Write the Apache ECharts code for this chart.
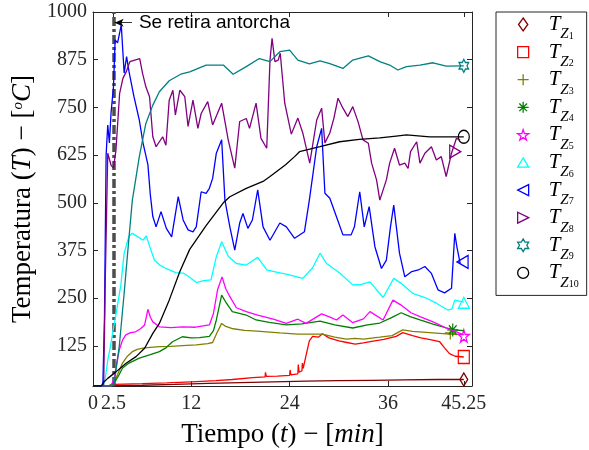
<!DOCTYPE html>
<html><head><meta charset="utf-8">
<script src="https://cdn.jsdelivr.net/npm/echarts@6/dist/echarts.min.js"></script>
<style>html,body{margin:0;padding:0;background:#fff}#c{width:589px;height:450px}</style>
</head><body><div id="c"></div>
<script>
// ---- data ----
const xTicks = [0, 2.5, 12, 24, 36, 45.25];
const yTicks = [125, 250, 375, 500, 625, 750, 875, 1000];
const seriesNames = ['TZ1','TZ2','TZ3','TZ4','TZ5','TZ6','TZ7','TZ8','TZ9','TZ10'];
const torchTime = 2.5;
const torchLabel = 'Se retira antorcha';
const arrowFrom = [2.64, 972];
const arrowTo = [4.75, 972];

const tz1 = [[0,20],[1.5,20],[2.5,21],[6,22],[10,24],[14,27],[18,29],[22,31],[26,33],[30,34],[34,35],[38,36],[42,37],[45.25,37]];
const tz2 = [[0,20],[2.2,20],[2.6,24],[6,26],[9,28],[12,31],[15,34],[17,37],[19.5,42],[21,44],[21.05,56],[21.15,45],[22.5,46],[24,48],[24.05,62],[24.15,49],[25,52],[25.05,76],[25.15,56],[25.5,60],[25.55,80],[25.65,66],[26,100],[26.4,138],[26.8,150],[27.5,148],[28,157],[28.8,146],[30,138],[31,134],[32,130],[33,133],[34,137],[35.5,142],[37,150],[37.8,160],[39,152],[40,146],[41,142],[42.3,136],[42.9,120],[43.5,105],[44.2,98],[45.25,96]];
const tz3 = [[0,20],[1.8,20],[2.3,24],[2.8,40],[3.2,60],[3.6,80],[4.2,98],[4.8,110],[5.4,116],[6.1,119],[7,121],[8.1,123],[9.5,124],[10.9,126],[12.6,128],[14,131],[14.6,134],[15.1,158],[15.7,184],[16.2,176],[17.1,170],[18.5,166],[20,164],[22.8,159],[25,156],[28,156],[29.5,148],[30.9,143],[32,145],[33,143],[35,148],[36.5,152],[37.8,167],[39,163],[41.1,160],[43.5,156],[44.5,155]];
const tz4 = [[0,20],[1.9,20],[2.4,25],[2.8,35],[3.2,50],[3.6,67],[4.4,80],[5.65,93],[7,102],[8.1,110],[8.9,120],[9.7,136],[10.9,149],[12,146],[13,147],[14.2,150],[14.7,165],[15.05,193],[15.7,258],[16.2,240],[17,215],[18.7,206],[19.9,193],[21.5,187],[23.6,180],[25.5,183],[27.7,190],[29.5,180],[31.7,172],[33.5,180],[35,185],[36.5,200],[37.6,212],[38.7,202],[39.9,193],[41.5,182],[43.1,172],[44,167],[45.25,165]];
const tz5 = [[0,20],[2.2,20],[2.6,40],[2.9,80],[3.2,114],[3.6,140],[4,154],[4.6,160],[5.2,162],[5.8,170],[6.3,180],[6.7,221],[7.0,200],[7.3,188],[8.1,175],[9.5,173],[10.9,175],[12.5,174],[14.2,180],[14.7,210],[15.2,272],[15.75,306],[16.2,275],[16.7,254],[17.5,225],[18.7,215],[20.1,206],[22,195],[23.6,184],[25,195],[26,184],[27.9,209],[29,200],[29.7,193],[30.5,206],[31.7,186],[33,196],[33.8,215],[35.4,193],[36.6,245],[37.6,232],[38.8,212],[39.9,202],[41.5,188],[43.1,172],[44.2,163],[45.25,154]];
const tz6 = [[0,20],[1.2,20],[1.5,40],[1.8,88],[2.1,120],[2.4,159],[2.9,220],[3.4,285],[3.8,368],[4.4,413],[4.8,420],[5.4,412],[6.1,402],[6.5,413],[7.0,380],[7.5,350],[8.2,336],[8.9,328],[10.1,317],[11,316],[11.8,305],[12.6,291],[13.5,296],[14.4,298],[15.05,359],[15.7,398],[16.5,360],[17.5,341],[18.7,337],[20.1,357],[21.2,324],[22.5,318],[23.6,313],[25.6,302],[26.8,330],[27.7,368],[28.5,341],[30.1,316],[31.7,285],[32.75,286],[33.8,293],[35.4,252],[36.7,302],[37.6,289],[39,263],[40.7,250],[41.9,237],[43.3,219],[43.8,222],[44.15,245],[45.25,240]];
const tz7 = [[0,20],[1.2,20],[1.4,200],[1.6,625],[1.8,704],[2.0,657],[2.2,735],[2.5,804],[2.7,927],[3.0,919],[3.45,966],[3.8,840],[4.1,883],[4.4,843],[5.0,778],[5.65,717],[6.1,657],[6.7,600],[7.0,520],[7.3,464],[7.7,437],[8.3,477],[8.95,433],[9.6,411],[10.4,516],[11.0,455],[11.6,429],[12.2,424],[12.6,437],[13.2,529],[13.8,525],[14.2,538],[14.6,564],[15.05,630],[15.7,665],[16.1,507],[16.7,437],[17.3,376],[17.9,447],[18.3,472],[18.9,433],[19.45,455],[20.1,534],[20.75,437],[21.6,402],[22.8,447],[23.6,437],[24.6,407],[25.8,424],[26.4,507],[27.3,647],[27.9,695],[28.3,525],[28.9,512],[29.7,464],[30.5,416],[31.5,416],[31.9,437],[32.55,529],[33.1,437],[33.7,490],[34.4,385],[35.2,328],[35.8,350],[36.3,437],[36.7,494],[37.4,368],[38.05,306],[38.9,320],[39.7,324],[40.5,333],[41.3,315],[42.1,272],[42.9,264],[43.75,276],[44.15,420],[44.4,385],[44.8,342]];
const tz8 = [[0,20],[1.3,20],[1.5,300],[1.8,630],[2.2,599],[2.5,591],[2.8,638],[3.25,787],[3.65,826],[4.05,843],[4.5,870],[5.7,878],[6.05,839],[6.45,804],[6.9,778],[7.3,673],[7.7,647],[8.1,660],[8.5,673],[8.9,651],[9.3,769],[9.75,795],[10.05,730],[10.6,795],[11.2,778],[11.6,700],[12.2,769],[12.8,695],[13.2,734],[14.0,765],[14.6,704],[15.7,761],[16.5,665],[17.3,591],[17.9,713],[18.7,721],[19.1,695],[19.9,761],[20.5,669],[21.2,643],[21.6,874],[21.85,931],[22.2,870],[22.6,874],[22.85,892],[23.4,761],[24.2,680],[25.0,722],[25.6,683],[26.45,604],[27.3,717],[27.9,748],[28.3,657],[28.9,683],[29.4,722],[29.9,774],[30.5,748],[31.1,726],[31.7,752],[32.35,712],[32.95,665],[33.6,656],[34.0,604],[34.6,560],[35.0,507],[35.8,560],[36.2,604],[36.8,643],[37.4,599],[38.05,604],[38.45,590],[38.75,634],[39.5,660],[39.9,604],[40.5,630],[41.3,647],[41.9,612],[42.5,621],[43.1,569],[43.75,630],[44.35,669],[44.8,665]];
const tz9 = [[0,20],[2.4,20],[2.6,30],[3.2,123],[3.8,263],[4.4,411],[4.8,507],[5.05,540],[5.65,621],[6.45,708],[7.3,756],[8.1,791],[9.3,820],[10.7,837],[11.8,843],[13.8,861],[15.9,861],[17.1,837],[18.7,857],[20.3,878],[21.6,870],[22.8,896],[24,900],[25,874],[26.4,864],[27.7,872],[28.9,865],[30.5,852],[31.7,874],[33.6,885],[35,870],[36.2,861],[37.2,848],[38.25,857],[39.9,861],[41.5,867],[43.1,858],[45.25,859]];
const tz10 = [[0,20],[1.0,20],[1.3,30],[1.8,40],[2.8,57],[4.0,79],[5.25,97],[6.3,119],[7.3,158],[8.1,184],[9.3,245],[10.6,320],[11.8,378],[13.8,440],[15.9,500],[16.7,516],[18.7,538],[20.75,556],[21.6,569],[23.5,600],[24.6,621],[25.2,634],[27.7,647],[30.1,660],[32.5,666],[35,670],[37,675],[38.25,678],[41.1,673],[45.25,673]];
const endMarkers = [[45.25,37],[45.25,96],[43.6,159],[43.9,167],[45.25,151],[45.25,238],[45.1,345],[44.2,634],[45.25,859],[45.25,673]];

// ---- styles ----
const allData = [tz1,tz2,tz3,tz4,tz5,tz6,tz7,tz8,tz9,tz10];
const colors = ['#800000','#ff0000','#808000','#008000','#ff00ff','#00ffff','#0000ff','#800080','#008080','#000000'];
const star5 = 'path://M50,0L61.23,34.55L97.55,34.55L68.17,55.9L79.39,90.45L50,69.1L20.61,90.45L31.83,55.9L2.45,34.55L38.77,34.55Z';
const hexagram = 'path://M5,0L6.443,2.5L9.33,2.5L7.887,5L9.33,7.5L6.443,7.5L5,10L3.557,7.5L0.67,7.5L2.113,5L0.67,2.5L3.557,2.5Z';
const symbols = [
  'path://M5,0L10,7L5,14L0,7Z',
  'path://M0,0L10,0L10,10L0,10Z',
  'path://M5,0L5,10M0,5L10,5',
  'path://M5,0L5,10M0,5L10,5M1.5,1.5L8.5,8.5M8.5,1.5L1.5,8.5',
  star5,
  'path://M6,0L12,10L0,10Z',
  'path://M0,5L10,0L10,10Z',
  'path://M10,5L0,0L0,10Z',
  hexagram,
  'circle'
];
const serif = 'Liberation Serif';
const axisColor = '#262626';

const chart = echarts.init(document.getElementById('c'), null, {renderer:'canvas'});

const series = allData.map((d, i) => ({
  name: seriesNames[i], type: 'line', data: d, showSymbol: false, symbol: 'none',
  lineStyle: {color: colors[i], width: 1.3}, itemStyle: {color: colors[i]},
  silent: true, animation: false, z: 2 + i,
  markPoint: {
    symbol: symbols[i], symbolSize: [11, 13], symbolKeepAspect: true, silent: true, animation: false,
    itemStyle: {color: 'rgba(0,0,0,0)', borderColor: colors[i], borderWidth: 1.3},
    label: {show: false},
    data: [{coord: endMarkers[i]}]
  }
}));

series.push({
  name: 'torch', type: 'line', data: [], silent: true, animation: false, z: 30,
  markLine: {
    silent: true, animation: false, symbol: ['none','none'],
    lineStyle: {color: '#4d4d4d', width: 3.5, type: [9,3,3,3]},
    label: {show: false},
    data: [[{coord: [torchTime, 20]}, {coord: [torchTime, 1000]}]]
  }
});
series.push({
  name: 'note', type: 'line', data: [], silent: true, animation: false, z: 31,
  markLine: {
    silent: true, animation: false, symbol: ['arrow','none'], symbolSize: [6, 9],
    lineStyle: {color: '#000', width: 0.8, type: 'solid'},
    label: {show: true, position: 'end', formatter: torchLabel, fontFamily: 'Liberation Sans', fontSize: 19, color: '#000', distance: 7},
    data: [[{coord: arrowFrom}, {coord: arrowTo}]]
  }
});

const baseX = {
  type: 'value', min: 0, max: 46.25,
  axisLine: {show: true, onZero: false, lineStyle: {color: axisColor, width: 1}},
  axisTick: {show: true, inside: true, length: 5, customValues: xTicks, lineStyle: {color: axisColor}},
  splitLine: {show: false}
};
const baseY = {
  type: 'value', min: 20, max: 1000,
  axisLine: {show: true, onZero: false, lineStyle: {color: axisColor, width: 1}},
  axisTick: {show: true, inside: true, length: 5, customValues: yTicks, lineStyle: {color: axisColor}},
  splitLine: {show: false}
};

chart.setOption({
  animation: false,
  backgroundColor: '#fff',
  grid: {left: 93, top: 12, right: 117, bottom: 64, containLabel: false, outerBoundsMode: 'none'},
  xAxis: [
    Object.assign({}, baseX, {
      position: 'bottom',
      axisLabel: {customValues: xTicks, formatter: v => String(v), fontFamily: serif, fontSize: 20, color: axisColor, margin: 8},
      name: '{n|Tiempo (}{i|t}{n|) − [}{i|min}{n|]}',
      nameLocation: 'middle', nameGap: 35,
      nameTextStyle: {rich: {
        n: {fontFamily: serif, fontSize: 27, color: '#000'},
        i: {fontFamily: serif, fontSize: 27, fontStyle: 'italic', color: '#000'}
      }}
    }),
    Object.assign({}, baseX, {position: 'top', axisLabel: {show: false}})
  ],
  yAxis: [
    Object.assign({}, baseY, {
      position: 'left',
      axisLabel: {customValues: yTicks, formatter: v => String(v), fontFamily: serif, fontSize: 20, color: axisColor, margin: 6},
      name: '{n|Temperatura (}{i|T}{n|) − [}{s|o}{i|C}{n|]}',
      nameLocation: 'middle', nameGap: 45, nameRotate: 90,
      nameTextStyle: {rich: {
        n: {fontFamily: serif, fontSize: 27, lineHeight: 30, color: '#000'},
        i: {fontFamily: serif, fontSize: 27, lineHeight: 30, fontStyle: 'italic', color: '#000'},
        s: {fontFamily: serif, fontSize: 15, lineHeight: 15, fontStyle: 'italic', verticalAlign: 'top', padding: [3,0,0,0], color: '#000'}
      }}
    }),
    Object.assign({}, baseY, {position: 'right', axisLabel: {show: false}})
  ],
  legend: {
    show: true, orient: 'vertical', left: 496, top: 12,
    padding: [2, 8, 2, 21], itemGap: -3.4, itemWidth: 11, itemHeight: 13,
    symbolKeepAspect: true,
    backgroundColor: '#fff', borderColor: axisColor, borderWidth: 1, borderRadius: 0,
    selectedMode: false,
    data: seriesNames.map((n, i) => ({
      name: n, icon: symbols[i],
      itemStyle: {color: 'rgba(0,0,0,0)', borderColor: colors[i], borderWidth: 1.3}
    })),
    formatter: name => '{t|T}{z|Z}{d|' + name.slice(2) + '}',
    textStyle: {
      padding: [0, 0, 0, 15],
      rich: {
        t: {fontFamily: serif, fontSize: 21, fontStyle: 'italic', lineHeight: 21, verticalAlign: 'top', color: '#000'},
        z: {fontFamily: serif, fontSize: 15, fontStyle: 'italic', lineHeight: 15, verticalAlign: 'top', padding: [13,0,0,0], color: '#000'},
        d: {fontFamily: serif, fontSize: 10, lineHeight: 10, verticalAlign: 'top', padding: [17,0,4,0], color: '#000'}
      }
    }
  },
  series: series
});
</script>
</body></html>
